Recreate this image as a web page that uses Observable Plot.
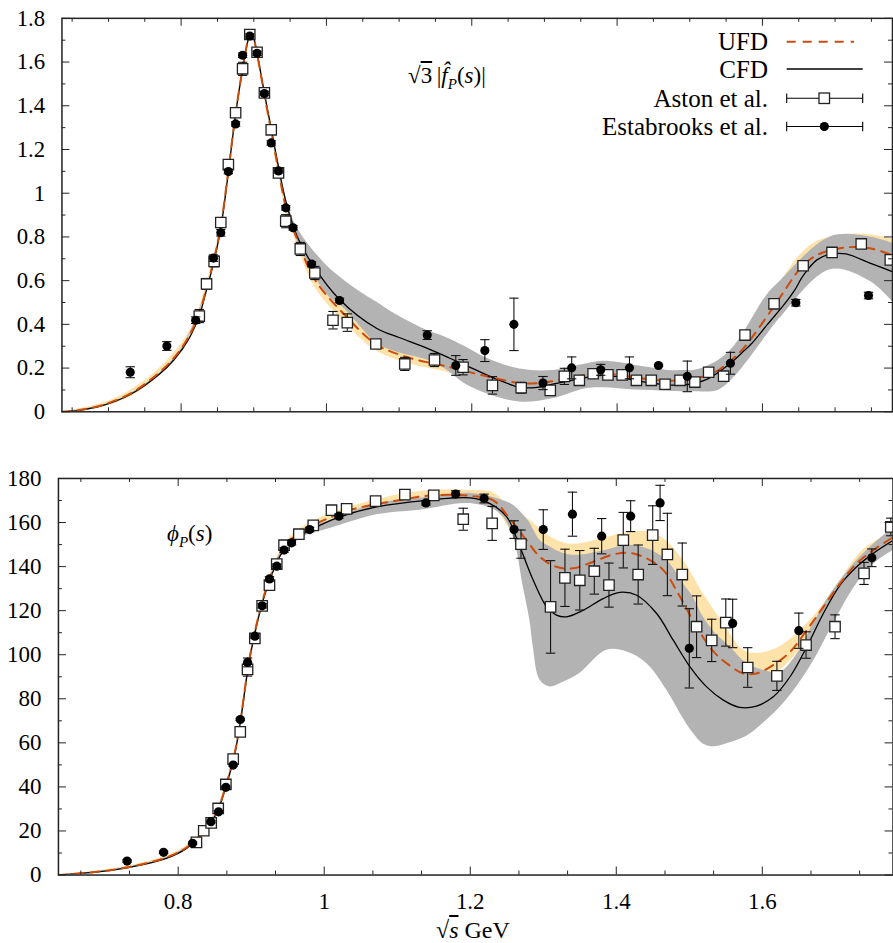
<!DOCTYPE html>
<html><head><meta charset="utf-8">
<script src="https://cdn.jsdelivr.net/npm/d3@7"></script>
<script src="https://cdn.jsdelivr.net/npm/@observablehq/plot@0.6"></script>
<style>
html,body{margin:0;padding:0;background:#fff;}
#wrap{position:relative;width:893px;height:943px;overflow:hidden;font-family:"Liberation Serif","Times New Roman",Tinos,"DejaVu Serif",serif;}
#top,#bot{position:absolute;left:0;}
#top{top:0px} #bot{top:460px}
.lbl{position:absolute;font-family:"Liberation Serif","Times New Roman",Tinos,"DejaVu Serif",serif;color:#000;white-space:nowrap;line-height:1;}
.lbl i{font-style:italic;}
.ov{text-decoration:overline;}
#legend{position:absolute;left:0;top:0;}
</style></head><body>
<div id="wrap">
<div id="top"></div>
<div id="bot"></div>
<div class="lbl" style="left:408px;top:64px;font-size:23px;">√<span class="ov">3</span>&thinsp;|<i>f̂</i><sub style="font-size:15px"><i>P</i></sub>(<i>s</i>)|</div>
<div class="lbl" style="left:167px;top:522px;font-size:23px;"><i>ϕ</i><sub style="font-size:15px"><i>P</i></sub>(<i>s</i>)</div>
<div class="lbl" style="left:436px;top:918px;font-size:24px;">√<span class="ov"><i>s</i></span> GeV</div>
<svg id="legend" width="893" height="150" style="font-family:'Liberation Serif','Times New Roman',Tinos,'DejaVu Serif',serif" font-size="25">
  <text x="768" y="41.7" text-anchor="end" dominant-baseline="central">UFD</text>
  <line x1="786.7" x2="854" y1="41.7" y2="41.7" stroke="#cc4c0c" stroke-width="2" stroke-dasharray="9,7"/>
  <text x="768" y="69" text-anchor="end" dominant-baseline="central">CFD</text>
  <line x1="786.7" x2="862.7" y1="69" y2="69" stroke="#000" stroke-width="1.3"/>
  <text x="768" y="98.3" text-anchor="end" dominant-baseline="central">Aston et al.</text>
  <line x1="786.7" x2="862.7" y1="98.3" y2="98.3" stroke="#000" stroke-width="1.1"/>
  <line x1="786.7" x2="786.7" y1="93.6" y2="103" stroke="#000" stroke-width="1.1"/>
  <line x1="862.7" x2="862.7" y1="93.6" y2="103" stroke="#000" stroke-width="1.1"/>
  <rect x="819" y="93" width="10.5" height="10.5" fill="#fff" stroke="#222" stroke-width="1.3"/>
  <text x="768" y="126.5" text-anchor="end" dominant-baseline="central">Estabrooks et al.</text>
  <line x1="786.7" x2="862.7" y1="126.5" y2="126.5" stroke="#000" stroke-width="1.1"/>
  <line x1="786.7" x2="786.7" y1="121.8" y2="131.2" stroke="#000" stroke-width="1.1"/>
  <line x1="862.7" x2="862.7" y1="121.8" y2="131.2" stroke="#000" stroke-width="1.1"/>
  <circle cx="824.3" cy="126.5" r="4.6" fill="#000"/>
</svg>
</div>
<script>
// ---------- Top panel: sqrt(3)|f_P(s)| ----------
const astonAmpX = [0.825,0.835,0.8454,0.8546,0.865,0.875,0.8846,0.8945,0.9045,0.9146,0.924,0.934,0.944,0.964,0.984,1.009,1.0287,1.068,1.1078,1.1487,1.188,1.2284,1.268,1.308,1.3274,1.348,1.367,1.3874,1.407,1.4266,1.447,1.466,1.4866,1.507,1.526,1.5466,1.576,1.616,1.656,1.6958,1.736,1.776];
const astonAmpY = [0.438,0.585,0.688,0.866,1.131,1.368,1.569,1.726,1.645,1.459,1.29,1.093,0.872,0.745,0.635,0.419,0.408,0.31,0.219,0.237,0.204,0.121,0.110,0.098,0.162,0.144,0.174,0.169,0.169,0.144,0.144,0.126,0.144,0.136,0.181,0.163,0.351,0.494,0.668,0.729,0.768,0.695];
const astonAmpE = [0.03,0.025,0.025,0.02,0.02,0.02,0.03,0.02,0.02,0.02,0.02,0.02,0.03,0.03,0.03,0.04,0.04,0.015,0.03,0.03,0.035,0.04,0.025,0.01,0.037,0.02,0.015,0.01,0.01,0.01,0.01,0.01,0.01,0.01,0.015,0.015,0.01,0.01,0.02,0.02,0.015,0.02];

const estAmpX = [0.730,0.7804,0.820,0.8445,0.8546,0.865,0.875,0.8846,0.8945,0.9045,0.9146,0.924,0.934,0.944,0.954,0.9796,1.018,1.1387,1.178,1.218,1.258,1.298,1.3375,1.3775,1.417,1.457,1.4966,1.556,1.646,1.746];
const estAmpY = [0.181,0.301,0.419,0.703,0.819,1.099,1.317,1.631,1.719,1.640,1.456,1.230,1.102,0.933,0.842,0.676,0.509,0.351,0.212,0.280,0.400,0.1315,0.201,0.192,0.201,0.212,0.162,0.222,0.499,0.532];
const estAmpE = [0.025,0.02,0.015,0.015,0.015,0.01,0.01,0.01,0.01,0.01,0.01,0.01,0.01,0.01,0.01,0.01,0.01,0.02,0.045,0.05,0.12,0.03,0.05,0.025,0.05,0.005,0.07,0.05,0.015,0.015];

const cfdAmpX = [0.636,0.66,0.69,0.73,0.77,0.79,0.81,0.825,0.834,0.8454,0.8546,0.8645,0.875,0.885,0.894,0.8975,0.9045,0.9146,0.925,0.935,0.9455,0.96,0.98,1.018,1.07,1.10,1.139,1.17,1.20,1.234,1.266,1.29,1.31,1.343,1.375,1.40,1.43,1.46,1.49,1.525,1.556,1.575,1.5845,1.607,1.630,1.6435,1.657,1.675,1.6935,1.715,1.748,1.78];
const cfdAmpY = [0,0.007,0.027,0.079,0.172,0.237,0.33,0.44,0.545,0.69,0.84,1.081,1.361,1.572,1.72,1.733,1.64,1.459,1.278,1.104,0.945,0.80,0.678,0.514,0.38,0.34,0.29,0.245,0.20,0.15,0.112,0.112,0.125,0.147,0.166,0.161,0.14,0.126,0.122,0.151,0.222,0.28,0.31,0.40,0.491,0.552,0.627,0.695,0.721,0.722,0.68,0.64];

const ufdAmpX = [0.636,0.66,0.69,0.73,0.77,0.79,0.81,0.825,0.834,0.8454,0.8546,0.8645,0.875,0.885,0.894,0.8975,0.9045,0.9146,0.925,0.935,0.9455,0.961,0.984,1.0287,1.068,1.108,1.17,1.225,1.27,1.3025,1.3434,1.375,1.407,1.448,1.489,1.53,1.555,1.575,1.6115,1.63,1.6527,1.6755,1.712,1.748,1.78];
const ufdAmpY = [0,0.008,0.029,0.083,0.18,0.246,0.34,0.45,0.555,0.70,0.85,1.09,1.365,1.575,1.72,1.73,1.635,1.45,1.265,1.085,0.92,0.779,0.605,0.431,0.31,0.253,0.204,0.159,0.13,0.136,0.162,0.177,0.166,0.147,0.144,0.174,0.23,0.295,0.461,0.552,0.658,0.718,0.751,0.748,0.715];

const cfdAmpBandX  = [0.636,0.70,0.73,0.77,0.80,0.834,0.8546,0.8645,0.875,0.885,0.8975,0.9045,0.9146,0.925,0.935,0.9455,0.96,1.0,1.025,1.052,1.07,1.095,1.14,1.1615,1.19,1.2206,1.266,1.3115,1.357,1.38,1.4025,1.425,1.448,1.4706,1.4935,1.507,1.539,1.5617,1.607,1.625,1.6935,1.748,1.78];
const cfdAmpBandLo = [0,0.03,0.075,0.168,0.277,0.54,0.834,1.075,1.355,1.565,1.72,1.632,1.45,1.27,1.09,0.935,0.78,0.54,0.47,0.37,0.31,0.275,0.235,0.20,0.13,0.083,0.045,0.06,0.106,0.11,0.106,0.10,0.098,0.094,0.091,0.092,0.098,0.16,0.355,0.431,0.65,0.597,0.50];
const cfdAmpBandHi = [0,0.036,0.082,0.176,0.287,0.55,0.846,1.087,1.367,1.579,1.745,1.648,1.468,1.29,1.12,0.965,0.84,0.67,0.60,0.537,0.50,0.446,0.37,0.345,0.30,0.245,0.196,0.189,0.219,0.231,0.225,0.212,0.20,0.189,0.189,0.19,0.234,0.302,0.537,0.60,0.80,0.80,0.77];

const ufdAmpBandX  = [0.636,0.69,0.73,0.77,0.80,0.818,0.834,0.8454,0.8546,0.8645,0.875,0.885,0.8975,0.9045,0.9146,0.925,0.935,0.9455,0.961,0.984,1.0287,1.068,1.108,1.17,1.225,1.27,1.3025,1.3434,1.375,1.407,1.448,1.489,1.53,1.555,1.575,1.6115,1.63,1.6527,1.6755,1.712,1.748,1.78];
const ufdAmpBandLo = [0,0.02,0.068,0.163,0.268,0.37,0.535,0.685,0.835,1.075,1.352,1.56,1.715,1.62,1.435,1.25,1.065,0.90,0.75,0.57,0.395,0.28,0.225,0.178,0.135,0.108,0.113,0.138,0.153,0.143,0.124,0.12,0.15,0.205,0.265,0.42,0.51,0.62,0.69,0.72,0.715,0.68];
const ufdAmpBandHi = [0,0.038,0.098,0.198,0.31,0.41,0.575,0.715,0.865,1.105,1.378,1.59,1.745,1.65,1.465,1.28,1.105,0.94,0.81,0.64,0.47,0.345,0.285,0.232,0.186,0.158,0.165,0.19,0.205,0.195,0.176,0.172,0.205,0.26,0.33,0.53,0.62,0.72,0.78,0.81,0.81,0.79];

const ampYTicks = [0,0.2,0.4,0.6,0.8,1,1.2,1.4,1.6,1.8];
const ampYTickLabels = ["0","0.2","0.4","0.6","0.8","1","1.2","1.4","1.6","1.8"];
const ampYMinor = [0.1,0.3,0.5,0.7,0.9,1.1,1.3,1.5,1.7];
const ampXTicks = [0.8,1.0,1.2,1.4,1.6];
const ampXMinor = [0.65,0.7,0.75,0.85,0.9,0.95,1.05,1.1,1.15,1.25,1.3,1.35,1.45,1.5,1.55,1.65,1.7,1.75];

// ---------- Bottom panel: phi_P(s) ----------
const astonPhX = [0.825,0.835,0.8452,0.8548,0.8653,0.8753,0.885,0.895,0.905,0.915,0.925,0.935,0.945,0.9653,0.985,1.010,1.0307,1.0704,1.1105,1.150,1.1904,1.230,1.2695,1.310,1.3297,1.350,1.3699,1.390,1.4096,1.430,1.4499,1.470,1.4904,1.510,1.5307,1.550,1.580,1.620,1.6599,1.6996,1.7393,1.776];
const astonPhY = [14.8,20.1,23.7,30.2,41.1,52.6,65.0,93.3,107.4,122.2,131.6,141.1,149.7,154.7,158.7,165.6,166.2,169.7,172.7,172.3,161.5,159.6,150.2,121.7,134.9,133.8,137.9,131.6,152.0,136.4,154.3,145.5,136.4,112.7,106.5,114.6,94.2,90.4,104.4,112.7,136.9,158];
const astonPhE = [1,1,1,1,1,1,1,3,1.5,1.5,1,1,1,1,1,1,1,1,1,1,5,7.7,6.4,21,13,13.5,10.4,10,12.6,13.4,13.3,18.7,14.3,14,9.6,10.7,9,6.6,6,5.4,5,4];

const estPhX = [0.730,0.780,0.8197,0.8448,0.8553,0.8653,0.8753,0.885,0.895,0.905,0.915,0.925,0.935,0.945,0.9553,0.980,1.020,1.1393,1.180,1.219,1.260,1.300,1.340,1.380,1.4197,1.460,1.500,1.5594,1.650,1.750];
const estPhY = [6.35,10.3,14.4,24.2,28.7,39.8,49.9,70.6,96.5,108.4,122.2,134.4,140.2,147.5,150.8,156.8,162.9,168.9,172.9,170.9,156.8,156.8,163.8,153.8,162.9,168.9,102.9,114.2,110.9,144.0];
const estPhE = [0.5,0.5,0.5,0.5,0.5,0.5,0.5,0.5,2,1,1,1,1,1,1,1,1,1,1.5,2,4,9,10,8,7,8,18,11,8,4];

const cfdPhX = [0.636,0.693,0.738,0.784,0.8115,0.834,0.8526,0.866,0.8777,0.887,0.896,0.905,0.9164,0.928,0.9416,0.9575,0.985,1.0215,1.0718,1.14,1.20,1.227,1.25,1.268,1.2863,1.3047,1.318,1.332,1.3548,1.382,1.405,1.428,1.4553,1.478,1.501,1.5238,1.5466,1.569,1.592,1.615,1.638,1.661,1.6836,1.7065,1.7293,1.752,1.78];
const cfdPhY = [0,1.5,3.8,7.6,12.1,18.9,28,40.8,55.2,73.4,94.5,109.7,124.8,136.1,146,152,157.3,162.6,167.1,170.1,171.2,168.6,162.6,149,133.8,121.7,118,117.2,120.2,125.5,128.3,127,118.7,106.6,94.5,85.4,79.4,76.1,76.7,80.9,90,103.6,118.7,131.6,139.9,146,152];

const ufdPhX = [0.636,0.693,0.738,0.784,0.8115,0.834,0.8526,0.866,0.8777,0.887,0.896,0.905,0.9164,0.928,0.9416,0.9575,0.985,1.035,1.10,1.149,1.204,1.2315,1.254,1.277,1.2955,1.318,1.341,1.3685,1.396,1.4188,1.4416,1.4644,1.4873,1.51,1.533,1.5557,1.574,1.592,1.615,1.638,1.661,1.6836,1.7065,1.7293,1.752,1.78];
const ufdPhY = [0,1.6,4,8,12.5,19.3,28.5,41.3,55.8,74,95,110.3,125.5,137,147,153.2,158.8,165.6,170,172.4,172,170.1,161.8,152,144.4,139.9,139.2,142.2,145.5,146.2,143.7,138.4,126.3,112.7,101.5,95,91.5,91.5,95.3,101.3,111.2,121.7,132.3,141.4,147.5,153.5];

const cfdPhBandX  = [0.636,0.693,0.738,0.784,0.8115,0.834,0.8526,0.866,0.8777,0.887,0.896,0.905,0.9164,0.928,0.9416,0.9575,0.985,1.0,1.0718,1.131,1.2,1.2406,1.259,1.2726,1.282,1.2863,1.2955,1.309,1.3274,1.350,1.387,1.414,1.4416,1.469,1.4918,1.5055,1.519,1.535,1.5557,1.5786,1.601,1.624,1.647,1.67,1.6927,1.7247,1.752,1.78];
const cfdPhBandLo = [0,1.3,3.5,7.2,11.6,18.3,27.3,40,54.3,72.5,93.5,108.8,124,135,144.8,150.6,155.5,156.5,163.5,165.6,168.6,164.1,153.5,130.8,115,103.6,88.5,85.4,87.5,91.5,102,101.3,96,84,71,64.3,59.5,58.2,60,63,68.8,76,85.4,97,111,130,141,147.5];
const cfdPhBandHi = [0,1.7,4.1,8.0,12.6,19.5,28.7,41.6,56.1,74.3,95.5,110.6,125.8,137.2,147.2,153.2,158.5,160,168.5,171,173.2,170.5,167.9,163.5,159.6,157,152,149,146,145.2,147.5,149.7,148.2,142.9,132.3,126,117.2,110,103.6,96,93,92,100,114,127,141,150,158];

const ufdPhBandX  = [0.636,0.693,0.738,0.784,0.8115,0.834,0.8526,0.866,0.8777,0.887,0.896,0.905,0.9164,0.928,0.9416,0.9575,1.0,1.10,1.15,1.204,1.2315,1.254,1.282,1.309,1.336,1.373,1.4096,1.4416,1.4644,1.4918,1.519,1.5466,1.574,1.592,1.624,1.67,1.7065,1.738,1.78];
const ufdPhBandLo = [0,1.3,3.6,7.4,11.8,18.5,27.6,40.2,54.6,72.8,93.8,109.2,124.4,136,146,152,158.5,168,170,169.5,167,157,141,133,131,134,138,136,130,115,102,92,88,89,93,110,126.3,139.9,150];
const ufdPhBandHi = [0,2.0,4.5,8.7,13.3,20.2,29.5,42.4,57,75.2,96.2,111.5,126.6,138.2,148.2,154.8,163,172.5,174.5,174.5,173.5,167,161,153.5,150.2,152,155,155.8,152.8,142.9,127.8,114.2,102.1,100.6,103.6,117.2,133.8,147.5,156];

const phYTicks = [0,20,40,60,80,100,120,140,160,180];
const phYTickLabels = ["0","20","40","60","80","100","120","140","160","180"];
const phYMinor = [10,30,50,70,90,110,130,150,170];
const phXTicks = [0.8,1.0,1.2,1.4,1.6];
const phXTickLabels = ["0.8","1","1.2","1.4","1.6"];
const phXMinor = [0.6667,0.7333,0.8667,0.9333,1.0667,1.1333,1.2667,1.3333,1.4667,1.5333,1.6667,1.7333];

// ---------- helpers ----------
const pts = (xs, ys, es) => xs.map((x, i) => ({x, y: ys[i], e: es[i]}));
const line = (xs, ys) => xs.map((x, i) => ({x, y: ys[i]}));
const band = (xs, lo, hi) => xs.map((x, i) => ({x, lo: lo[i], hi: hi[i]}));
const capSymbol = {draw(ctx, size) { const w = Math.sqrt(size / Math.PI); ctx.moveTo(-w, 0); ctx.lineTo(w, 0); }};

const COL_UFD = "#cc4c0c", COL_UFDBAND = "#fde2aa", COL_CFDBAND = "#b3b3b3";
const FONT = "'Liberation Serif', 'Times New Roman', Tinos, 'DejaVu Serif', serif";

function dataMarks(aston, est) {
  const m = [];
  for (const [d, isEst] of [[aston, false], [est, true]]) {
    m.push(Plot.ruleX(d, {x: "x", y1: p => p.y - p.e, y2: p => p.y + p.e, stroke: "#111", strokeWidth: 1.1}));
    m.push(Plot.dot(d, {x: "x", y: p => p.y - p.e, symbol: capSymbol, r: 4.7, stroke: "#111", fill: "none", strokeWidth: 1.1}));
    m.push(Plot.dot(d, {x: "x", y: p => p.y + p.e, symbol: capSymbol, r: 4.7, stroke: "#111", fill: "none", strokeWidth: 1.1}));
    if (isEst) m.push(Plot.dot(d, {x: "x", y: "y", r: 4.6, fill: "#000", stroke: "none"}));
    else m.push(Plot.dot(d, {x: "x", y: "y", symbol: "square", r: 5.9, fill: "#fff", stroke: "#222", strokeWidth: 1.3}));
  }
  return m;
}

function tickMarks(xMaj, xMin, yMaj, yMin, fw, fh) {
  const s = {stroke: "#222", strokeWidth: 1};
  return [
    Plot.tickX(xMaj, {x: d => d, insetTop: fh - 8, ...s}),
    Plot.tickX(xMaj, {x: d => d, insetBottom: fh - 8, ...s}),
    Plot.tickX(xMin, {x: d => d, insetTop: fh - 4, ...s}),
    Plot.tickX(xMin, {x: d => d, insetBottom: fh - 4, ...s}),
    Plot.tickY(yMaj, {y: d => d, insetRight: fw - 8, ...s}),
    Plot.tickY(yMaj, {y: d => d, insetLeft: fw - 8, ...s}),
    Plot.tickY(yMin, {y: d => d, insetRight: fw - 4, ...s}),
    Plot.tickY(yMin, {y: d => d, insetLeft: fw - 4, ...s})
  ];
}

const XDOM = [0.636, 1.779];

// Top plot
{
  const W = 901, H = 440, mL = 62, mR = 1, mT = 18, mB = 25;
  const fw = W - mL - mR, fh = H - mT - mB;
  const p = Plot.plot({
    width: W, height: H, marginLeft: mL, marginRight: mR, marginTop: mT, marginBottom: mB,
    x: {domain: XDOM, axis: null},
    y: {domain: [0, 1.8]},
    style: {fontFamily: FONT, fontSize: "23px", color: "#000", background: "transparent", overflow: "visible"},
    marks: [
      Plot.areaY(band(ufdAmpBandX, ufdAmpBandLo, ufdAmpBandHi), {x: "x", y1: "lo", y2: "hi", fill: COL_UFDBAND, curve: "catmull-rom", clip: true}),
      Plot.areaY(band(cfdAmpBandX, cfdAmpBandLo, cfdAmpBandHi), {x: "x", y1: "lo", y2: "hi", fill: COL_CFDBAND, curve: "catmull-rom", clip: true}),
      Plot.line(line(cfdAmpX, cfdAmpY), {x: "x", y: "y", stroke: "#000", strokeWidth: 1.3, curve: "catmull-rom", clip: true}),
      Plot.line(line(ufdAmpX, ufdAmpY), {x: "x", y: "y", stroke: COL_UFD, strokeWidth: 2, strokeDasharray: "9,7", curve: "catmull-rom", clip: true}),
      ...dataMarks(pts(astonAmpX, astonAmpY, astonAmpE), pts(estAmpX, estAmpY, estAmpE)),
      ...tickMarks(ampXTicks, ampXMinor, ampYTicks, ampYMinor, fw, fh),
      Plot.axisY(ampYTicks, {tickSize: 0, tickPadding: 17, label: null, fontSize: 23, tickFormat: d => ampYTickLabels[ampYTicks.indexOf(d)]}),
      Plot.frame({stroke: "#222", strokeWidth: 1.5})
    ]
  });
  document.getElementById("top").appendChild(p);
}

// Bottom plot
{
  const W = 894, H = 483, mL = 58, mR = 0.5, mT = 18, mB = 68;
  const fw = W - mL - mR, fh = H - mT - mB;
  const p = Plot.plot({
    width: W, height: H, marginLeft: mL, marginRight: mR, marginTop: mT, marginBottom: mB,
    x: {domain: XDOM},
    y: {domain: [0, 180]},
    style: {fontFamily: FONT, fontSize: "23px", color: "#000", background: "transparent", overflow: "visible"},
    marks: [
      Plot.areaY(band(ufdPhBandX, ufdPhBandLo, ufdPhBandHi), {x: "x", y1: "lo", y2: "hi", fill: COL_UFDBAND, curve: "catmull-rom", clip: true}),
      Plot.areaY(band(cfdPhBandX, cfdPhBandLo, cfdPhBandHi), {x: "x", y1: "lo", y2: "hi", fill: COL_CFDBAND, curve: "catmull-rom", clip: true}),
      Plot.line(line(cfdPhX, cfdPhY), {x: "x", y: "y", stroke: "#000", strokeWidth: 1.3, curve: "catmull-rom", clip: true}),
      Plot.line(line(ufdPhX, ufdPhY), {x: "x", y: "y", stroke: COL_UFD, strokeWidth: 2, strokeDasharray: "9,7", curve: "catmull-rom", clip: true}),
      ...dataMarks(pts(astonPhX, astonPhY, astonPhE), pts(estPhX, estPhY, estPhE)),
      ...tickMarks(phXTicks, phXMinor, phYTicks, phYMinor, fw, fh),
      Plot.axisY(phYTicks, {tickSize: 0, tickPadding: 17, label: null, fontSize: 23, tickFormat: d => phYTickLabels[phYTicks.indexOf(d)]}),
      Plot.axisX(phXTicks, {tickSize: 0, tickPadding: 18, label: null, fontSize: 23, tickFormat: d => phXTickLabels[phXTicks.indexOf(d)]}),
      Plot.frame({stroke: "#222", strokeWidth: 1.5})
    ]
  });
  document.getElementById("bot").appendChild(p);
}
</script>
</body></html>
